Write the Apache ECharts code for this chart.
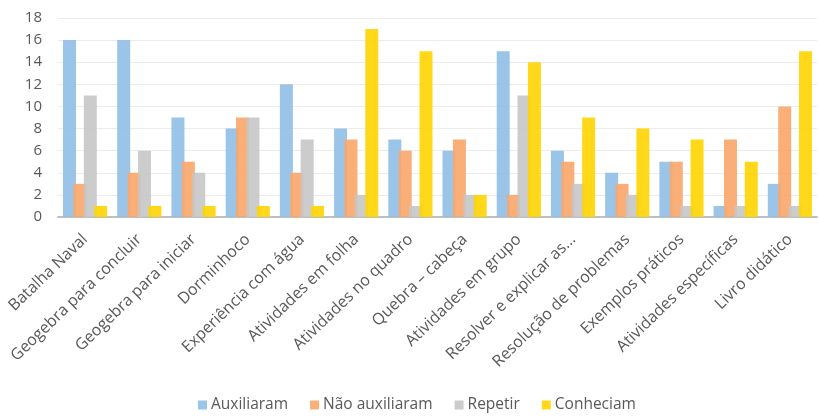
<!DOCTYPE html>
<html lang="pt">
<head>
    <meta charset="UTF-8">
    <title>Recursos</title>
    <style>
        * { padding: 0; margin: 0; }
        body { background: #fff; }
    </style>
</head>
<body>
    <div id="main" style="width: 819px; height: 417px;"></div>
    <script src="https://cdn.jsdelivr.net/npm/echarts@6/dist/echarts.min.js"></script>
    <script>
        const categories = ['Batalha Naval', 'Geogebra para concluir', 'Geogebra para iniciar', 'Dorminhoco',
            'Experiência com água', 'Atividades em folha', 'Atividades no quadro', 'Quebra – cabeça',
            'Atividades em grupo', 'Resolver e explicar as...', 'Resolução de problemas', 'Exemplos práticos',
            'Atividades específicas', 'Livro didático']
        const auxiliaram = [16, 16, 9, 8, 12, 8, 7, 6, 15, 6, 4, 5, 1, 3]
        const naoAuxiliaram = [3, 4, 5, 9, 4, 7, 6, 7, 2, 5, 3, 5, 7, 10]
        const repetir = [11, 6, 4, 9, 7, 2, 1, 2, 11, 3, 2, 1, 1, 1]
        const conheciam = [1, 1, 1, 1, 1, 17, 15, 2, 14, 9, 8, 7, 5, 15]
        const yTicks = [0, 2, 4, 6, 8, 10, 12, 14, 16, 18]

        const chart = echarts.init(document.getElementById('main'))
        const font = '"Open Sans", sans-serif'

        function bar(name, data, color) {
            return {
                name: name,
                type: 'bar',
                data: data,
                barWidth: 13,
                barGap: '-20%',
                itemStyle: { color: color, opacity: 0.9 }
            }
        }

        chart.setOption({
            animation: false,
            textStyle: { fontFamily: font },
            grid: { left: 58, right: 2, top: 18, bottom: 200 },
            legend: {
                left: 196,
                top: 395,
                padding: 2,
                itemWidth: 9,
                itemHeight: 9,
                itemGap: 22,
                icon: 'rect',
                textStyle: { color: '#595959', fontSize: 15.5, fontFamily: font, padding: [0, 0, 0, -1] },
                data: ['Auxiliaram', 'Não auxiliaram', 'Repetir', 'Conheciam']
            },
            xAxis: {
                type: 'category',
                data: categories,
                axisTick: { show: false },
                axisLine: { lineStyle: { color: '#bfbfbf', width: 2 } },
                axisLabel: {
                    interval: 0,
                    rotate: 44,
                    margin: 20,
                    color: '#595959',
                    fontSize: 16,
                    fontFamily: font
                }
            },
            yAxis: {
                type: 'value',
                min: yTicks[0],
                max: yTicks[yTicks.length - 1],
                interval: 2,
                axisLine: { show: false },
                axisTick: { show: false },
                axisLabel: { color: '#595959', fontSize: 15, fontFamily: font, margin: 16 },
                splitLine: { lineStyle: { color: '#ececec', width: 1 } }
            },
            series: [
                bar('Auxiliaram', auxiliaram, '#8fbfe7'),
                bar('Não auxiliaram', naoAuxiliaram, '#f9a66a'),
                bar('Repetir', repetir, '#c6c6c6'),
                bar('Conheciam', conheciam, '#ffd500')
            ]
        })
    </script>
</body>
</html>
